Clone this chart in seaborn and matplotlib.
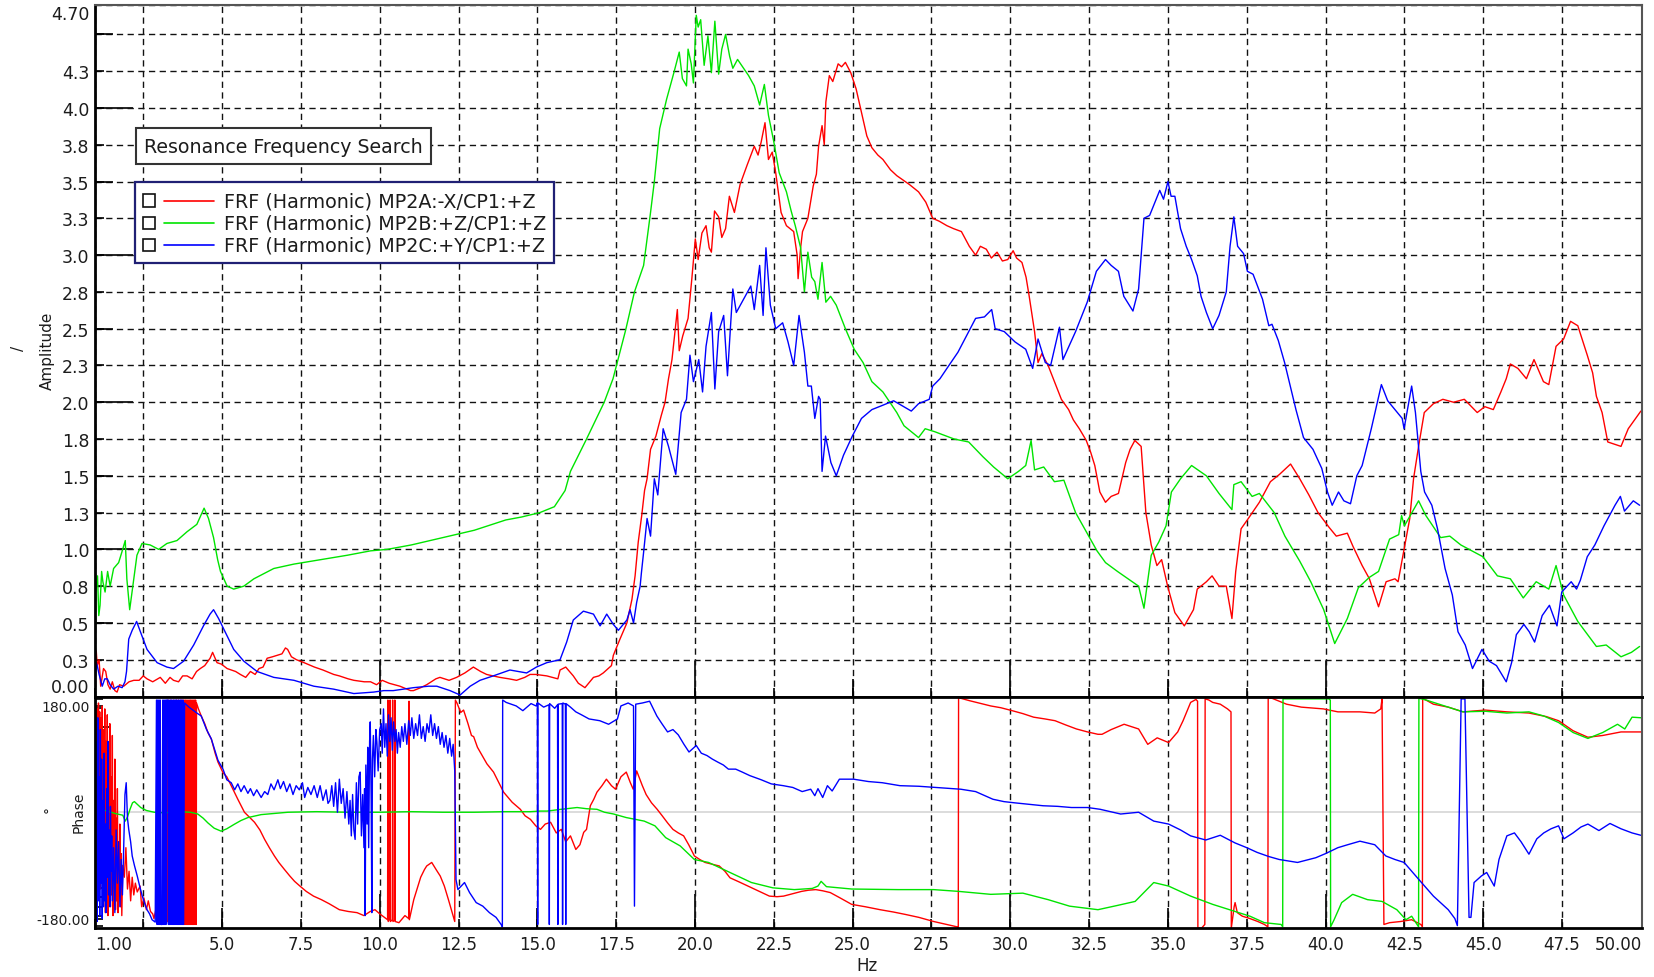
import numpy as np
import pandas as pd
import matplotlib
matplotlib.use("Agg")
import matplotlib.pyplot as plt
from matplotlib.patches import Rectangle
from matplotlib.lines import Line2D
from matplotlib.ticker import FixedLocator
import seaborn as sns

sns.set_theme(style="white")
plt.rcParams["font.family"] = ["DejaVu Sans"]

SERIES = ["FRF (Harmonic) MP2A:-X/CP1:+Z",
          "FRF (Harmonic) MP2B:+Z/CP1:+Z",
          "FRF (Harmonic) MP2C:+Y/CP1:+Z"]
COLORS = ["#ff0000", "#00e400", "#0000ff"]

X_MIN, X_MAX = 0.97, 50.02
AMP_MAX = 4.70
PHASE_LIM = 196

# ---------------- amplitude (Hz, amplitude) ----------------
RED_AMP = [
    (0.98, 0.30), (1.01, 0.31), (1.04, 0.21), (1.10, 0.25), (1.15, 0.07), (1.24, 0.19),
    (1.31, 0.17), (1.38, 0.08), (1.45, 0.05), (1.52, 0.10), (1.60, 0.04), (1.67, 0.03),
    (1.75, 0.08), (1.88, 0.07), (2.05, 0.10), (2.20, 0.11), (2.37, 0.11), (2.50, 0.14),
    (2.62, 0.12), (2.80, 0.10), (3.04, 0.13), (3.20, 0.09), (3.35, 0.13), (3.46, 0.11),
    (3.62, 0.10), (3.75, 0.14), (3.89, 0.14), (4.05, 0.12), (4.19, 0.17), (4.31, 0.19),
    (4.45, 0.21), (4.62, 0.26), (4.70, 0.30), (4.84, 0.23), (4.98, 0.22), (5.16, 0.19),
    (5.43, 0.17), (5.58, 0.15), (5.75, 0.13), (5.90, 0.17), (6.05, 0.15), (6.17, 0.19),
    (6.30, 0.20), (6.43, 0.26), (6.60, 0.27), (6.75, 0.28), (6.90, 0.29), (7.01, 0.33),
    (7.08, 0.32), (7.20, 0.27), (7.36, 0.25), (7.60, 0.23), (7.93, 0.20), (8.20, 0.18),
    (8.54, 0.15), (8.72, 0.14), (9.00, 0.12), (9.18, 0.11), (9.51, 0.10), (9.71, 0.10),
    (9.90, 0.08), (10.08, 0.11), (10.30, 0.09), (10.64, 0.07), (10.98, 0.04), (11.07, 0.04),
    (11.30, 0.06), (11.49, 0.08), (11.78, 0.12), (11.91, 0.13), (12.20, 0.11), (12.44, 0.13),
    (12.70, 0.16), (12.97, 0.20), (13.20, 0.17), (13.39, 0.15), (13.59, 0.14), (13.81, 0.13),
    (14.10, 0.12), (14.34, 0.11), (14.60, 0.13), (14.77, 0.15), (14.95, 0.15), (15.30, 0.14),
    (15.65, 0.12), (15.72, 0.18), (15.90, 0.20), (16.14, 0.14), (16.30, 0.09), (16.51, 0.06),
    (16.78, 0.13), (16.95, 0.14), (17.09, 0.16), (17.35, 0.21), (17.41, 0.28), (17.62, 0.39),
    (17.84, 0.50), (18.00, 0.66), (18.10, 0.82), (18.20, 1.05), (18.31, 1.23), (18.40, 1.40),
    (18.48, 1.48), (18.59, 1.68), (18.76, 1.77), (18.93, 1.91), (19.05, 2.00), (19.16, 2.16),
    (19.27, 2.29), (19.44, 2.63), (19.50, 2.35), (19.61, 2.45), (19.78, 2.57), (19.90, 2.84),
    (20.01, 3.11), (20.10, 2.97), (20.22, 3.15), (20.35, 3.20), (20.45, 3.05), (20.52, 3.02),
    (20.62, 3.30), (20.75, 3.26), (20.85, 3.12), (20.97, 3.18), (21.09, 3.40), (21.25, 3.29),
    (21.43, 3.48), (21.65, 3.61), (21.88, 3.74), (22.00, 3.68), (22.10, 3.77), (22.22, 3.90),
    (22.33, 3.65), (22.45, 3.70), (22.56, 3.56), (22.73, 3.29), (22.90, 3.20), (23.13, 3.16),
    (23.24, 3.00), (23.27, 2.84), (23.35, 3.05), (23.41, 3.16), (23.58, 3.25), (23.75, 3.47),
    (23.85, 3.55), (23.92, 3.74), (24.03, 3.88), (24.10, 3.75), (24.15, 4.04), (24.26, 4.22),
    (24.37, 4.18), (24.54, 4.30), (24.65, 4.28), (24.77, 4.31), (24.94, 4.24), (25.11, 4.13),
    (25.28, 3.97), (25.45, 3.81), (25.61, 3.73), (25.80, 3.68), (25.96, 3.65), (26.20, 3.58),
    (26.40, 3.54), (26.80, 3.48), (27.09, 3.43), (27.32, 3.36), (27.54, 3.25), (27.75, 3.23),
    (27.99, 3.20), (28.20, 3.18), (28.45, 3.16), (28.70, 3.06), (28.90, 3.00), (29.05, 3.06),
    (29.24, 3.04), (29.40, 2.98), (29.58, 3.02), (29.75, 2.96), (29.92, 2.97), (30.09, 3.03),
    (30.20, 2.98), (30.37, 2.95), (30.50, 2.85), (30.60, 2.72), (30.77, 2.48), (30.88, 2.27),
    (31.00, 2.33), (31.20, 2.25), (31.40, 2.14), (31.62, 2.02), (31.85, 1.95), (32.00, 1.88),
    (32.19, 1.82), (32.41, 1.74), (32.55, 1.66), (32.68, 1.57), (32.84, 1.39), (33.02, 1.32),
    (33.20, 1.36), (33.43, 1.38), (33.66, 1.59), (33.80, 1.68), (33.95, 1.74), (34.15, 1.70),
    (34.30, 1.25), (34.47, 1.03), (34.65, 0.89), (34.80, 0.93), (34.99, 0.75), (35.22, 0.57),
    (35.52, 0.48), (35.81, 0.59), (35.93, 0.73), (36.22, 0.78), (36.40, 0.82), (36.62, 0.75),
    (36.85, 0.75), (37.03, 0.53), (37.15, 0.85), (37.32, 1.14), (37.55, 1.21), (37.90, 1.32),
    (38.25, 1.46), (38.54, 1.51), (38.89, 1.58), (39.18, 1.48), (39.47, 1.37), (39.76, 1.25),
    (40.11, 1.15), (40.34, 1.09), (40.69, 1.11), (40.87, 1.02), (41.16, 0.89), (41.39, 0.80),
    (41.68, 0.61), (41.92, 0.78), (42.20, 0.80), (42.30, 0.78), (42.49, 1.00), (42.67, 1.21),
    (42.79, 1.48), (42.95, 1.70), (43.13, 1.93), (43.42, 1.99), (43.72, 2.02), (44.06, 2.00),
    (44.40, 2.02), (44.81, 1.93), (45.05, 1.97), (45.32, 1.95), (45.56, 2.07), (45.73, 2.16),
    (45.86, 2.26), (46.10, 2.23), (46.37, 2.16), (46.61, 2.29), (46.91, 2.14), (47.08, 2.12),
    (47.31, 2.38), (47.55, 2.43), (47.77, 2.55), (48.00, 2.52), (48.30, 2.32), (48.47, 2.20),
    (48.59, 2.04), (48.77, 1.93), (48.95, 1.73), (49.37, 1.70), (49.60, 1.82), (50.00, 1.94),
]

GREEN_AMP = [
    (0.98, 0.44), (1.00, 0.73), (1.05, 0.82), (1.09, 0.55), (1.13, 0.62), (1.18, 0.85),
    (1.22, 0.78), (1.29, 0.71), (1.37, 0.85), (1.45, 0.75), (1.56, 0.87), (1.72, 0.91),
    (1.82, 0.98), (1.93, 1.06), (1.98, 0.80), (2.07, 0.59), (2.20, 0.80), (2.30, 0.96),
    (2.46, 1.04), (2.72, 1.03), (2.99, 1.00), (3.25, 1.04), (3.57, 1.06), (3.89, 1.12),
    (4.20, 1.17), (4.43, 1.28), (4.57, 1.21), (4.73, 1.08), (4.86, 0.93), (4.95, 0.85),
    (5.16, 0.75), (5.37, 0.73), (5.69, 0.75), (6.01, 0.80), (6.64, 0.87), (7.28, 0.90),
    (8.12, 0.93), (8.97, 0.96), (9.71, 0.99), (10.24, 1.00), (11.00, 1.03), (12.00, 1.08),
    (13.00, 1.13), (14.00, 1.20), (14.50, 1.22), (15.08, 1.25), (15.54, 1.29), (15.88, 1.40),
    (16.05, 1.53), (16.56, 1.75), (17.12, 2.00), (17.40, 2.16), (17.80, 2.49), (18.08, 2.75),
    (18.37, 2.93), (18.59, 3.29), (18.71, 3.50), (18.88, 3.86), (19.10, 4.06), (19.33, 4.24),
    (19.50, 4.38), (19.60, 4.20), (19.73, 4.15), (19.78, 4.40), (19.88, 4.30), (19.95, 4.17),
    (20.04, 4.63), (20.10, 4.55), (20.18, 4.60), (20.29, 4.29), (20.41, 4.49), (20.52, 4.24),
    (20.63, 4.59), (20.75, 4.23), (20.85, 4.40), (20.97, 4.50), (21.10, 4.35), (21.20, 4.27),
    (21.35, 4.33), (21.54, 4.27), (21.70, 4.22), (21.88, 4.15), (22.05, 4.02), (22.20, 4.16),
    (22.33, 3.95), (22.50, 3.77), (22.67, 3.56), (22.90, 3.43), (23.05, 3.30), (23.18, 3.20),
    (23.35, 3.05), (23.47, 2.75), (23.58, 3.02), (23.70, 2.85), (23.80, 2.82), (23.90, 2.70),
    (24.03, 2.95), (24.15, 2.68), (24.30, 2.72), (24.48, 2.66), (24.77, 2.50), (25.05, 2.36),
    (25.33, 2.27), (25.61, 2.14), (25.96, 2.07), (26.40, 1.93), (26.63, 1.84), (27.09, 1.76),
    (27.30, 1.82), (27.60, 1.80), (28.22, 1.75), (28.68, 1.73), (29.13, 1.63), (29.47, 1.56),
    (29.92, 1.48), (30.26, 1.53), (30.49, 1.57), (30.66, 1.74), (30.77, 1.54), (31.06, 1.56),
    (31.40, 1.46), (31.70, 1.47), (32.07, 1.25), (32.41, 1.12), (32.75, 0.99), (33.02, 0.91),
    (33.40, 0.85), (33.80, 0.79), (34.07, 0.75), (34.24, 0.60), (34.47, 0.96), (34.71, 1.05),
    (34.94, 1.16), (35.11, 1.39), (35.40, 1.48), (35.75, 1.57), (36.22, 1.50), (36.62, 1.38),
    (37.03, 1.27), (37.09, 1.44), (37.32, 1.46), (37.67, 1.36), (37.90, 1.38), (38.37, 1.25),
    (38.71, 1.09), (39.18, 0.92), (39.53, 0.78), (39.94, 0.59), (40.29, 0.36), (40.69, 0.53),
    (41.04, 0.74), (41.39, 0.81), (41.68, 0.85), (42.03, 1.07), (42.32, 1.10), (42.41, 1.23),
    (42.50, 1.16), (42.95, 1.33), (43.18, 1.23), (43.65, 1.08), (43.94, 1.09), (44.29, 1.03),
    (44.99, 0.95), (45.45, 0.82), (45.86, 0.80), (46.27, 0.67), (46.68, 0.78), (47.08, 0.73),
    (47.31, 0.89), (47.55, 0.69), (48.00, 0.51), (48.59, 0.34), (48.90, 0.35), (49.37, 0.27),
    (49.70, 0.30), (49.96, 0.34),
]

BLUE_AMP = [
    (0.98, 0.12), (1.01, 0.23), (1.04, 0.21), (1.10, 0.15), (1.20, 0.07), (1.28, 0.12),
    (1.36, 0.12), (1.45, 0.08), (1.56, 0.05), (1.70, 0.07), (1.83, 0.06), (1.92, 0.10),
    (1.97, 0.17), (2.04, 0.39), (2.15, 0.45), (2.29, 0.51), (2.41, 0.44), (2.62, 0.32),
    (2.94, 0.23), (3.25, 0.20), (3.46, 0.19), (3.78, 0.24), (4.10, 0.35), (4.41, 0.48),
    (4.62, 0.56), (4.73, 0.59), (4.89, 0.53), (5.05, 0.46), (5.37, 0.32), (5.69, 0.24),
    (6.11, 0.17), (6.64, 0.13), (7.28, 0.11), (7.91, 0.07), (8.54, 0.05), (9.18, 0.02),
    (9.81, 0.03), (10.13, 0.04), (10.43, 0.04), (11.07, 0.06), (11.55, 0.07), (11.81, 0.07),
    (12.23, 0.04), (12.55, 0.01), (12.87, 0.07), (13.18, 0.11), (13.60, 0.14), (14.13, 0.18),
    (14.66, 0.16), (14.97, 0.20), (15.30, 0.23), (15.72, 0.25), (15.93, 0.37), (16.14, 0.52),
    (16.46, 0.58), (16.78, 0.56), (16.99, 0.48), (17.20, 0.56), (17.41, 0.49), (17.57, 0.45),
    (17.84, 0.52), (17.94, 0.59), (18.05, 0.50), (18.15, 0.64), (18.26, 0.75), (18.30, 0.84),
    (18.37, 0.98), (18.48, 1.21), (18.59, 1.09), (18.71, 1.48), (18.82, 1.37), (18.99, 1.82),
    (19.16, 1.70), (19.39, 1.51), (19.56, 1.93), (19.73, 2.02), (19.84, 2.32), (19.95, 2.14),
    (20.12, 2.29), (20.24, 2.07), (20.35, 2.38), (20.52, 2.61), (20.63, 2.09), (20.75, 2.48),
    (20.91, 2.59), (21.03, 2.18), (21.20, 2.77), (21.31, 2.61), (21.54, 2.70), (21.77, 2.79),
    (21.88, 2.63), (22.05, 2.93), (22.16, 2.59), (22.25, 3.05), (22.39, 2.66), (22.56, 2.50),
    (22.78, 2.54), (22.95, 2.41), (23.13, 2.25), (23.30, 2.59), (23.47, 2.34), (23.58, 2.11),
    (23.69, 2.11), (23.80, 1.89), (23.92, 2.04), (23.97, 2.02), (24.03, 1.53), (24.14, 1.77),
    (24.31, 1.59), (24.48, 1.50), (24.71, 1.64), (24.99, 1.77), (25.28, 1.89), (25.61, 1.95),
    (25.96, 1.98), (26.30, 2.01), (26.86, 1.94), (27.09, 1.99), (27.43, 2.02), (27.54, 2.11),
    (27.77, 2.16), (27.99, 2.23), (28.34, 2.34), (28.68, 2.48), (28.90, 2.57), (29.18, 2.58),
    (29.41, 2.63), (29.52, 2.50), (29.81, 2.48), (30.15, 2.41), (30.49, 2.36), (30.71, 2.23),
    (30.88, 2.43), (31.11, 2.27), (31.28, 2.25), (31.56, 2.51), (31.67, 2.29), (32.07, 2.48),
    (32.44, 2.68), (32.73, 2.89), (33.02, 2.97), (33.20, 2.93), (33.43, 2.89), (33.60, 2.72),
    (33.89, 2.62), (34.07, 2.77), (34.24, 3.25), (34.42, 3.27), (34.59, 3.36), (34.74, 3.44),
    (34.86, 3.38), (35.00, 3.50), (35.10, 3.40), (35.22, 3.40), (35.40, 3.18), (35.58, 3.06),
    (35.75, 2.97), (35.93, 2.86), (36.05, 2.72), (36.22, 2.61), (36.42, 2.50), (36.62, 2.59),
    (36.85, 2.75), (36.97, 3.06), (37.09, 3.26), (37.21, 3.06), (37.40, 3.01), (37.52, 2.89),
    (37.70, 2.87), (38.00, 2.70), (38.20, 2.52), (38.30, 2.53), (38.50, 2.42), (38.70, 2.27),
    (38.88, 2.11), (39.06, 1.95), (39.30, 1.76), (39.60, 1.68), (39.88, 1.55), (40.06, 1.39),
    (40.21, 1.30), (40.41, 1.39), (40.58, 1.33), (40.79, 1.31), (40.99, 1.50), (41.16, 1.57),
    (41.45, 1.82), (41.77, 2.12), (41.97, 2.01), (42.20, 1.95), (42.43, 1.89), (42.49, 1.82),
    (42.73, 2.11), (42.85, 1.93), (43.02, 1.53), (43.14, 1.39), (43.37, 1.30), (43.55, 1.14),
    (43.79, 0.87), (44.02, 0.69), (44.20, 0.44), (44.43, 0.35), (44.66, 0.19), (44.96, 0.32),
    (45.19, 0.24), (45.42, 0.21), (45.73, 0.10), (45.90, 0.23), (46.05, 0.42), (46.29, 0.49),
    (46.46, 0.44), (46.63, 0.37), (46.87, 0.55), (47.10, 0.62), (47.34, 0.48), (47.49, 0.71),
    (47.79, 0.78), (47.96, 0.73), (48.08, 0.79), (48.30, 0.95), (48.54, 1.03), (48.83, 1.16),
    (49.18, 1.30), (49.35, 1.36), (49.48, 1.26), (49.76, 1.33), (49.96, 1.30),
]

# ---------------- phase (Hz, degrees); jumps between +/-180 are phase wraps ----------------
RED_PHASE = [
    (1.00, 150), (1.02, -40), (1.04, 175), (1.06, -90), (1.08, 185), (1.10, 10), (1.12, 170),
    (1.14, -130), (1.16, 160), (1.18, -30), (1.20, 180), (1.22, -150), (1.24, 140), (1.26, -60),
    (1.28, 175), (1.30, -170), (1.32, 120), (1.34, -100), (1.36, 165), (1.38, -175), (1.40, 100),
    (1.42, -120), (1.44, 150), (1.46, -160), (1.48, 60), (1.50, -140), (1.52, 130), (1.54, -175),
    (1.56, 20), (1.58, -110), (1.60, 90), (1.62, -165), (1.64, -10), (1.66, -150), (1.68, 40),
    (1.70, -170), (1.72, -50), (1.74, -130), (1.76, -20), (1.78, -160), (1.80, -70), (1.82, -175),
    (1.85, -90), (1.90, -110), (1.95, -60), (2.00, -130), (2.05, -100), (2.10, -150), (2.15, -110),
    (2.20, -140), (2.25, -120), (2.31, -135), (2.40, -125), (2.45, -160), (2.52, -145),
    (2.60, -165), (2.66, -150), (2.73, -168), (2.80, -172), (2.84, -180), (2.90, -165),
    (2.95, -185), (3.00, -170), (3.05, -150), (3.10, -185), (3.16, -175), (3.20, -186),
    (3.28, -185), (3.29, 190), (3.30, -185), (3.37, -180), (3.38, 190), (3.39, -185),
    (3.46, -182), (3.47, 190), (3.48, -185), (3.55, 190), (3.56, -185), (3.62, 190), (3.63, -185),
    (3.70, 190), (3.71, -185), (3.76, 190), (3.78, -185), (3.80, 190), (3.82, -190), (3.84, 190),
    (3.86, -190), (3.88, 190), (3.90, -190), (3.92, 190), (3.94, -190), (3.96, 190), (3.98, -190),
    (4.00, 190), (4.02, -190), (4.04, 190), (4.06, -190), (4.08, 190), (4.10, -190), (4.12, 190),
    (4.14, -190), (4.16, 190), (4.18, -190), (4.19, 185), (4.25, 175), (4.34, 163), (4.45, 150),
    (4.55, 135), (4.66, 124), (4.78, 100), (4.87, 85), (5.03, 67), (5.15, 60), (5.29, 45),
    (5.50, 22), (5.71, 0), (6.03, -17), (6.20, -30), (6.35, -46), (6.50, -60), (6.66, -74),
    (6.80, -85), (6.98, -97), (7.15, -108), (7.30, -117), (7.47, -125), (7.67, -134),
    (7.90, -142), (8.15, -148), (8.40, -155), (8.72, -165), (9.00, -168), (9.28, -170),
    (9.50, -175), (9.70, -168), (9.85, -165), (10.00, -172), (10.15, -178), (10.25, -182),
    (10.26, 190), (10.27, -185), (10.32, -180), (10.33, 190), (10.34, -185), (10.40, -182),
    (10.41, 190), (10.42, -185), (10.47, -183), (10.48, 190), (10.49, -185), (10.61, -187),
    (10.80, -175), (10.92, -180), (10.93, 188), (10.94, -182), (11.08, -148), (11.18, -131),
    (11.30, -110), (11.42, -97), (11.49, -91), (11.65, -85), (11.80, -98), (11.92, -108),
    (12.05, -125), (12.18, -148), (12.30, -170), (12.38, -185), (12.40, 190), (12.45, 185),
    (12.57, 169), (12.66, 173), (12.80, 150), (12.91, 130), (12.98, 128), (13.10, 110),
    (13.25, 96), (13.40, 82), (13.61, 68), (13.80, 48), (13.93, 34), (14.20, 17), (14.46, 5),
    (14.61, -6), (14.78, -12), (14.95, -23), (15.10, -29), (15.25, -20), (15.42, -17),
    (15.60, -35), (15.76, -29), (15.90, -50), (16.05, -40), (16.22, -63), (16.35, -55),
    (16.47, -34), (16.56, -29), (16.68, 11), (16.79, 22), (16.89, 34), (17.05, 45), (17.19, 56),
    (17.35, 45), (17.48, 39), (17.65, 60), (17.82, 68), (17.95, 50), (18.04, 39), (18.15, 70),
    (18.33, 45), (18.45, 30), (18.62, 16), (18.80, 5), (18.96, -6), (19.13, -18), (19.30, -29),
    (19.47, -35), (19.64, -40), (19.80, -55), (19.98, -74), (20.15, -80), (20.32, -85),
    (20.55, -88), (20.77, -91), (20.95, -100), (21.11, -111), (21.40, -118), (21.68, -125),
    (22.00, -133), (22.36, -142), (22.60, -143), (22.81, -142), (23.10, -138), (23.38, -134),
    (23.60, -132), (23.83, -131), (24.05, -133), (24.29, -136), (24.60, -145), (24.97, -156),
    (25.40, -160), (25.87, -165), (26.30, -169), (26.67, -173), (27.10, -178), (27.57, -185),
    (27.90, -189), (28.31, -194), (28.35, -196), (28.36, 194), (28.70, 189), (29.00, 185),
    (29.38, 180), (29.70, 177), (30.06, 172), (30.40, 167), (30.74, 161), (31.10, 158),
    (31.42, 155), (31.75, 148), (32.10, 141), (32.45, 136), (32.78, 132), (32.91, 132),
    (33.20, 140), (33.61, 149), (34.07, 141), (34.36, 115), (34.66, 126), (35.02, 118),
    (35.31, 136), (35.48, 155), (35.72, 186), (35.89, 191), (35.94, 188), (35.95, -196),
    (36.07, -196), (36.17, -190), (36.18, 192), (36.30, 190), (36.42, 186), (36.66, 183),
    (36.89, 175), (37.00, 170), (37.01, -196), (37.10, -160), (37.13, -153), (37.20, -170),
    (37.36, -176), (37.60, -180), (37.85, -185), (38.06, -190), (38.17, -194), (38.18, 193),
    (38.30, 193), (38.76, 183), (39.23, 178), (39.93, 175), (40.39, 170), (41.09, 170),
    (41.56, 168), (41.75, 175), (41.79, 192), (41.85, -190), (42.03, -187), (42.38, -185),
    (42.73, -182), (43.02, -190), (43.07, -194), (43.08, 193), (43.42, 183), (43.89, 178),
    (44.36, 170), (45.06, 173), (45.75, 170), (46.45, 168), (47.00, 162), (47.39, 155),
    (47.85, 138), (48.32, 127), (48.79, 130), (49.37, 136), (50.00, 136),
]

GREEN_PHASE = [
    (1.00, 0), (1.30, 3), (1.60, -2), (1.85, -5), (1.93, -15), (2.00, -8), (2.08, 5),
    (2.16, 16), (2.22, 18), (2.30, 14), (2.42, 8), (2.60, 3), (2.85, 0), (3.20, -1), (3.60, 1),
    (4.00, 0), (4.23, -3), (4.40, -10), (4.55, -18), (4.75, -27), (4.97, -32), (5.15, -28),
    (5.40, -20), (5.60, -14), (5.82, -9), (6.24, -4), (7.09, 0), (8.00, 1), (9.00, 0),
    (10.00, 0), (11.00, 1), (12.00, 0), (13.00, 0), (14.00, 1), (14.78, 1), (15.08, 2),
    (15.31, 2), (15.76, 5), (16.26, 8), (16.56, 6), (16.89, 5), (17.13, 0), (17.42, -3),
    (17.82, -9), (18.39, -15), (18.73, -23), (19.07, -43), (19.53, -57), (19.98, -80),
    (20.43, -85), (21.11, -102), (21.79, -119), (22.47, -128), (23.15, -131), (23.72, -129),
    (23.90, -125), (24.00, -117), (24.17, -126), (24.97, -130), (26.44, -131), (27.57, -131),
    (28.36, -134), (29.38, -139), (30.40, -137), (31.20, -148), (31.88, -159), (32.78, -165),
    (33.38, -158), (33.96, -151), (34.55, -119), (35.02, -125), (35.72, -142), (36.42, -156),
    (37.13, -168), (37.60, -176), (38.06, -187), (38.59, -190), (38.64, -194), (38.65, 192),
    (38.88, 192), (39.46, 192), (40.10, 192), (40.15, 190), (40.16, -194), (40.27, -182),
    (40.51, -153), (40.86, -139), (41.33, -148), (41.79, -151), (42.26, -165), (42.55, -182),
    (42.73, -176), (42.90, -190), (42.95, -194), (42.96, 193), (43.19, 190), (43.89, 178),
    (44.36, 170), (45.06, 171), (45.75, 168), (46.45, 170), (46.92, 163), (47.39, 152),
    (47.85, 135), (48.32, 125), (48.79, 135), (49.26, 149), (49.49, 141), (49.72, 161),
    (50.00, 160),
]

BLUE_PHASE = [
    (0.98, 170), (1.00, -170), (1.02, 120), (1.04, -185), (1.06, 160), (1.08, -150), (1.10, 60),
    (1.12, -175), (1.14, 140), (1.16, -120), (1.18, 90), (1.20, -180), (1.22, 20), (1.24, -160),
    (1.26, 100), (1.28, -150), (1.30, -20), (1.32, -170), (1.34, 40), (1.36, -110), (1.38, 120),
    (1.40, -140), (1.42, -30), (1.44, -160), (1.46, 10), (1.48, -100), (1.50, -40), (1.52, -150),
    (1.56, -60), (1.60, -170), (1.64, -30), (1.68, -120), (1.72, -50), (1.76, -160), (1.80, -80),
    (1.84, -140), (1.88, -60), (1.92, 30), (1.96, 50), (2.00, -10), (2.04, -29), (2.10, -50),
    (2.15, -74), (2.22, -90), (2.31, -108), (2.40, -128), (2.47, -142), (2.55, -155),
    (2.62, -165), (2.70, -172), (2.78, -182), (2.88, -186), (2.92, 190), (2.94, -190),
    (2.96, 190), (2.98, -190), (3.00, 190), (3.02, -190), (3.04, 190), (3.06, -190),
    (3.10, -190), (3.12, 190), (3.14, -190), (3.16, 190), (3.18, -190), (3.20, 190),
    (3.22, -190), (3.24, 190), (3.28, 190), (3.30, -190), (3.32, 190), (3.34, -190),
    (3.36, 190), (3.38, -190), (3.40, 190), (3.42, -190), (3.44, 190), (3.46, -190),
    (3.48, 190), (3.50, -190), (3.52, 190), (3.54, -190), (3.56, 190), (3.58, -190),
    (3.60, 190), (3.62, -190), (3.64, 190), (3.66, -190), (3.68, 190), (3.70, -190),
    (3.72, 190), (3.74, -190), (3.76, 190), (3.78, -190), (3.81, 185), (3.95, 178),
    (4.10, 172), (4.20, 168), (4.34, 163), (4.50, 141), (4.66, 124), (4.87, 88), (5.03, 73),
    (5.15, 55), (5.29, 50), (5.40, 38), (5.50, 48), (5.60, 35), (5.70, 45), (5.82, 32),
    (5.90, 40), (6.00, 28), (6.10, 38), (6.24, 25), (6.35, 35), (6.45, 30), (6.55, 48),
    (6.65, 38), (6.77, 55), (6.85, 40), (6.95, 52), (7.05, 35), (7.15, 48), (7.25, 30),
    (7.35, 45), (7.45, 38), (7.55, 50), (7.62, 25), (7.72, 42), (7.82, 30), (7.92, 45),
    (8.02, 25), (8.11, 45), (8.20, 20), (8.30, 38), (8.36, 15), (8.42, 20), (8.48, 45),
    (8.54, 10), (8.60, 50), (8.66, 0), (8.72, 56), (8.78, 15), (8.84, 40), (8.90, -10),
    (8.96, 35), (9.02, -20), (9.06, 20), (9.10, -40), (9.14, 30), (9.18, -30), (9.22, -46),
    (9.26, 50), (9.30, -20), (9.34, 60), (9.38, 68), (9.42, -40), (9.46, 30), (9.50, -60),
    (9.52, 40), (9.54, -175), (9.56, 80), (9.60, -20), (9.62, 110), (9.65, -60), (9.68, 120),
    (9.70, 153), (9.73, 20), (9.75, -170), (9.77, 90), (9.80, 130), (9.84, 60), (9.88, 140),
    (9.91, 119), (9.95, 70), (10.00, 140), (10.05, 150), (10.08, 100), (10.12, 175),
    (10.16, 110), (10.20, 150), (10.24, 95), (10.28, 165), (10.32, 120), (10.36, 160),
    (10.40, 105), (10.44, 153), (10.48, 120), (10.52, 140), (10.56, 100), (10.60, 135),
    (10.65, 110), (10.70, 145), (10.75, 120), (10.80, 150), (10.86, 115), (10.92, 155),
    (10.97, 130), (11.02, 160), (11.08, 125), (11.14, 150), (11.20, 130), (11.26, 165),
    (11.32, 125), (11.38, 145), (11.44, 120), (11.50, 150), (11.56, 135), (11.62, 165),
    (11.68, 130), (11.74, 150), (11.80, 125), (11.86, 145), (11.92, 115), (11.98, 135),
    (12.04, 110), (12.10, 130), (12.16, 100), (12.22, 125), (12.28, 95), (12.33, 115),
    (12.38, 70), (12.42, -114), (12.48, -131), (12.69, -119), (12.85, -136),
    (13.06, -153), (13.27, -159), (13.48, -170), (13.69, -178), (13.85, -190), (13.89, -194),
    (13.90, 190), (14.01, 186), (14.33, 180), (14.54, 172), (14.80, 184), (14.96, 180),
    (15.00, 185), (15.01, -190), (15.02, 185), (15.20, 178), (15.37, 182), (15.38, -190),
    (15.39, 184), (15.55, 176), (15.64, 182), (15.65, -190), (15.66, 183), (15.79, 184),
    (15.80, -190), (15.81, 185), (15.89, 183), (15.90, -190), (15.91, 184), (16.05, 178),
    (16.22, 170), (16.40, 165), (16.64, 158), (16.98, 155), (17.26, 149), (17.54, 158),
    (17.65, 180), (17.88, 185), (18.05, 180), (18.08, -159), (18.12, 183), (18.33, 185),
    (18.56, 188), (18.79, 163), (18.95, 150), (19.13, 136), (19.30, 140), (19.47, 131),
    (19.65, 115), (19.81, 102), (20.04, 113), (20.20, 100), (20.38, 96), (20.55, 90),
    (20.72, 85), (20.90, 80), (21.06, 73), (21.29, 73), (21.50, 68), (21.74, 62), (22.10, 55),
    (22.42, 48), (22.80, 45), (23.10, 42), (23.40, 35), (23.67, 39), (23.80, 28), (23.90, 40),
    (24.05, 25), (24.20, 45), (24.35, 36), (24.58, 56), (25.03, 56), (25.50, 52), (25.94, 50),
    (26.50, 45), (27.10, 44), (27.64, 42), (28.43, 39), (28.90, 35), (29.45, 22), (29.80, 18),
    (30.13, 16), (30.50, 14), (31.04, 11), (31.50, 10), (31.94, 8), (32.45, 8), (32.85, 5),
    (33.50, -3), (34.07, 0), (34.55, -15), (35.02, -20), (35.40, -30), (35.72, -40),
    (36.20, -47), (36.66, -39), (37.13, -52), (37.50, -60), (37.83, -68), (38.20, -75),
    (38.53, -80), (39.11, -85), (39.69, -77), (40.00, -70), (40.39, -60), (40.70, -55),
    (41.09, -49), (41.56, -55), (41.91, -74), (42.20, -80), (42.49, -85), (42.96, -114),
    (43.42, -142), (43.89, -165), (44.10, -180), (44.18, -192), (44.30, 192), (44.42, 192),
    (44.55, -178), (44.61, -178), (44.71, -119), (44.94, -108), (45.11, -102), (45.35, -125),
    (45.50, -80), (45.75, -40), (45.99, -35), (46.20, -50), (46.45, -71), (46.70, -45),
    (46.92, -35), (47.15, -28), (47.39, -23), (47.56, -45), (47.85, -35), (48.10, -25),
    (48.32, -20), (48.67, -31), (49.02, -19), (49.37, -28), (49.72, -35), (50.00, -39),
]

AMP_TICKS = [0.0, 0.25, 0.5, 0.75, 1.0, 1.25, 1.5, 1.75, 2.0, 2.25, 2.5, 2.75, 3.0,
             3.25, 3.5, 3.75, 4.0, 4.25, 4.5, AMP_MAX]
AMP_TICK_LABELS = ["0.00", "0.3", "0.5", "0.8", "1.0", "1.3", "1.5", "1.8", "2.0", "2.3",
                   "2.5", "2.8", "3.0", "3.3", "3.5", "3.8", "4.0", "4.3", "", "4.70"]
HZ_TICKS = [X_MIN, 2.5, 5.0, 7.5, 10.0, 12.5, 15.0, 17.5, 20.0, 22.5, 25.0, 27.5, 30.0,
            32.5, 35.0, 37.5, 40.0, 42.5, 45.0, 47.5, X_MAX]
HZ_TICK_LABELS = ["1.00", "", "5.0", "7.5", "10.0", "12.5", "15.0", "17.5", "20.0", "22.5",
                  "25.0", "27.5", "30.0", "32.5", "35.0", "37.5", "40.0", "42.5", "45.0",
                  "47.5", "50.00"]
PHASE_TICKS = [-180, 180]
PHASE_TICK_LABELS = ["-180.00", "180.00"]


def to_frame(pairs, name, col):
    hz, val = zip(*pairs)
    return pd.DataFrame({"Hz": hz, col: val, "Series": name})


amp_df = pd.concat([to_frame(RED_AMP, SERIES[0], "Amplitude"),
                    to_frame(GREEN_AMP, SERIES[1], "Amplitude"),
                    to_frame(BLUE_AMP, SERIES[2], "Amplitude")], ignore_index=True)
ph_df = pd.concat([to_frame(RED_PHASE, SERIES[0], "Phase"),
                   to_frame(GREEN_PHASE, SERIES[1], "Phase"),
                   to_frame(BLUE_PHASE, SERIES[2], "Phase")], ignore_index=True)
palette = dict(zip(SERIES, COLORS))

# ---------------- figure layout (pixel based, 1654 x 978) ----------------
W, H = 1654, 978
fig = plt.figure(figsize=(W / 100, H / 100), dpi=100)
fig.patch.set_facecolor("white")

LEFT, RIGHT = 95, 1641.5
AMP_TOP, SPLIT, PH_BOTTOM = 6, 697.5, 929


def fx(px):
    return px / W


def fy(py):
    return 1 - py / H


ax_amp = fig.add_axes([fx(LEFT), fy(SPLIT), (RIGHT - LEFT) / W, (SPLIT - AMP_TOP) / H])
ax_ph = fig.add_axes([fx(LEFT), fy(PH_BOTTOM), (RIGHT - LEFT) / W, (PH_BOTTOM - SPLIT) / H])

GRID_KW = dict(color="#111111", linestyle=(0, (4.5, 3.2)), linewidth=1.0)
LINE_LW = 1.0
TEXT_COLOR = "#1c1c1c"
PT = 72 / 100  # points per pixel

# amplitude panel
sns.lineplot(data=amp_df, x="Hz", y="Amplitude", hue="Series", palette=palette,
             estimator=None, sort=False, legend=False, linewidth=LINE_LW, ax=ax_amp)
ax_amp.set_xlim(X_MIN, X_MAX)
ax_amp.set_ylim(0, AMP_MAX)
ax_amp.set_xlabel("")
ax_amp.set_ylabel("")
ax_amp.set_xticks(HZ_TICKS)
ax_amp.set_xticklabels([])
ax_amp.set_yticks(AMP_TICKS)
ax_amp.set_yticklabels(AMP_TICK_LABELS)
ax_amp.grid(True, axis="both", **GRID_KW)
ax_amp.set_axisbelow(True)
ax_amp.tick_params(axis="both", which="major", direction="in", length=9 * PT, width=1.2,
                   color="black", labelsize=12.5, labelcolor=TEXT_COLOR, pad=4)
ax_amp.tick_params(axis="x", which="major", bottom=True, top=False)
ax_amp.tick_params(axis="y", which="major", left=True, right=False)
ax_amp.xaxis.remove_overlapping_locs = False
ax_amp.yaxis.remove_overlapping_locs = False
ax_amp.xaxis.set_minor_locator(FixedLocator([5, 15, 25, 35, 45]))
ax_amp.yaxis.set_minor_locator(FixedLocator([0.5, 1.5, 2.5, 3.5, 4.5]))
ax_amp.tick_params(axis="both", which="minor", direction="in", length=18 * PT, width=1.2,
                   color="black", bottom=True, left=True, top=False, right=False)
sec_x = ax_amp.secondary_xaxis("bottom")
sec_x.set_xticks([10, 20, 30, 40])
sec_x.tick_params(direction="in", length=36 * PT, width=1.2, color="black", labelbottom=False)
sec_x.spines["bottom"].set_visible(False)
sec_y = ax_amp.secondary_yaxis("left")
sec_y.set_yticks([1, 2, 3, 4])
sec_y.tick_params(direction="in", length=38 * PT, width=1.2, color="black", labelleft=False)
sec_y.spines["left"].set_visible(False)
for lbl, val in zip(ax_amp.get_yticklabels(), AMP_TICKS):
    if val == 0:
        lbl.set_verticalalignment("bottom")
    elif val == AMP_MAX:
        lbl.set_verticalalignment("top")
for side in ["top", "right"]:
    ax_amp.spines[side].set_color("#555555")
    ax_amp.spines[side].set_linewidth(1.5)
for side in ["left", "bottom"]:
    ax_amp.spines[side].set_color("black")
    ax_amp.spines[side].set_linewidth(2.0)

# phase panel
ax_ph.axhline(0, color="#d9d9d9", linewidth=1.3, zorder=1)
sns.lineplot(data=ph_df, x="Hz", y="Phase", hue="Series", palette=palette,
             estimator=None, sort=False, legend=False, linewidth=LINE_LW, ax=ax_ph)
ax_ph.set_xlim(X_MIN, X_MAX)
ax_ph.set_ylim(-PHASE_LIM, PHASE_LIM)
ax_ph.set_xlabel("")
ax_ph.set_ylabel("")
ax_ph.set_xticks(HZ_TICKS)
ax_ph.set_xticklabels(HZ_TICK_LABELS)
ax_ph.set_yticks(PHASE_TICKS)
ax_ph.set_yticklabels(PHASE_TICK_LABELS)
ax_ph.grid(True, axis="x", **GRID_KW)
ax_ph.grid(False, axis="y")
ax_ph.set_axisbelow(True)
ax_ph.tick_params(axis="x", which="major", direction="in", length=9 * PT, width=1.2,
                  color="black", labelsize=12, labelcolor=TEXT_COLOR, pad=5,
                  bottom=True, top=False)
ax_ph.tick_params(axis="y", which="major", direction="in", length=8 * PT, width=1.2,
                  color="black", labelsize=10, labelcolor=TEXT_COLOR, pad=4,
                  left=True, right=False)
ax_ph.xaxis.remove_overlapping_locs = False
ax_ph.yaxis.remove_overlapping_locs = False
ax_ph.xaxis.set_minor_locator(FixedLocator([5, 15, 25, 35, 45]))
ax_ph.yaxis.set_minor_locator(FixedLocator(list(range(-192, 193, 16))))
ax_ph.tick_params(axis="x", which="minor", direction="in", length=20 * PT, width=1.2,
                  color="black", bottom=True, top=False)
ax_ph.tick_params(axis="y", which="minor", direction="in", length=8 * PT, width=1.2,
                  color="black", left=True, right=False)
sec_px = ax_ph.secondary_xaxis("bottom")
sec_px.set_xticks([10, 20, 30, 40])
sec_px.tick_params(direction="in", length=34 * PT, width=1.2, color="black", labelbottom=False)
sec_px.spines["bottom"].set_visible(False)
sec_py = ax_ph.secondary_yaxis("left")
sec_py.set_yticks(list(range(-144, 145, 48)))
sec_py.tick_params(direction="in", length=16 * PT, width=1.2, color="black", labelleft=False)
sec_py.spines["left"].set_visible(False)
xlabels = ax_ph.get_xticklabels()
xlabels[0].set_horizontalalignment("left")
xlabels[-1].set_horizontalalignment("right")
ax_ph.spines["right"].set_color("#555555")
ax_ph.spines["right"].set_linewidth(1.5)
for side in ["left", "bottom", "top"]:
    ax_ph.spines[side].set_color("black")
    ax_ph.spines[side].set_linewidth(2.0)

# axis titles
fig.text(fx(47.5), fy(351), "Amplitude", rotation=90, ha="center", va="center",
         fontsize=11, color=TEXT_COLOR)
fig.text(fx(19), fy(348), "/", rotation=90, ha="center", va="center",
         fontsize=11, color=TEXT_COLOR)
fig.text(fx(79), fy(812), "Phase", rotation=90, ha="center", va="center",
         fontsize=10, color=TEXT_COLOR)
fig.text(fx(50), fy(810), "°", rotation=90, ha="center", va="center",
         fontsize=10, color=TEXT_COLOR)
fig.text(fx(867), fy(966), "Hz", ha="center", va="center", fontsize=12, color=TEXT_COLOR)

# chart title box
fig.add_artist(Rectangle((fx(136), fy(165)), (431 - 136) / W, (165 - 129) / H,
                         transform=fig.transFigure, facecolor="white",
                         edgecolor="#333333", linewidth=1.5, zorder=5))
fig.text(fx(143.5), fy(147.5), "Resonance Frequency Search", ha="left", va="center",
         fontsize=13.7, color=TEXT_COLOR, zorder=6)

# legend box with check squares
fig.add_artist(Rectangle((fx(135), fy(263.5)), (554 - 135) / W, (263.5 - 183) / H,
                         transform=fig.transFigure, facecolor="white",
                         edgecolor="#202074", linewidth=1.6, zorder=5))
for i, (name, color) in enumerate(zip(SERIES, COLORS)):
    ry = 201.5 + i * 22.2
    fig.add_artist(Rectangle((fx(143), fy(ry + 6)), 12 / W, 12 / H,
                             transform=fig.transFigure, facecolor="white",
                             edgecolor="#111111", linewidth=1.2, zorder=6))
    fig.add_artist(Line2D([fx(164), fx(214)], [fy(ry), fy(ry)], color=color,
                          linewidth=1.2, transform=fig.transFigure, zorder=6))
    fig.text(fx(224), fy(ry), name, ha="left", va="center", fontsize=13.8,
             color=TEXT_COLOR, zorder=6)

fig.savefig("out.png", dpi=100, facecolor="white")
